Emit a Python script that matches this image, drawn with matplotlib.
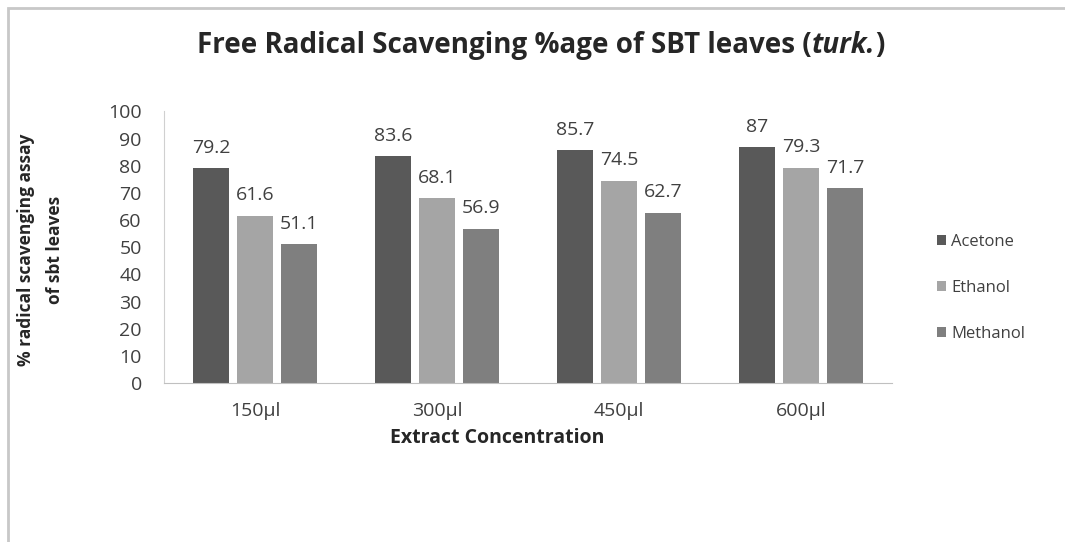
import matplotlib
matplotlib.use("Agg")
import matplotlib.pyplot as plt
import numpy as np
from matplotlib.patches import Rectangle

categories = ["150µl", "300µl", "450µl", "600µl"]
series_names = ["Acetone", "Ethanol", "Methanol"]
acetone = [79.2, 83.6, 85.7, 87]
ethanol = [61.6, 68.1, 74.5, 79.3]
methanol = [51.1, 56.9, 62.7, 71.7]
y_ticks = [0, 10, 20, 30, 40, 50, 60, 70, 80, 90, 100]

colors = ["#595959", "#a5a5a5", "#7f7f7f"]
FONT = "Open Sans"
plt.rcParams["font.family"] = [FONT, "DejaVu Sans"]

W, H = 1065, 542
fig = plt.figure(figsize=(W / 100, H / 100), dpi=100)
fig.patch.set_facecolor("white")

# outer frame (left and top edges visible)
fig.patches.append(Rectangle((8 / W, -0.05), 1.2, 1 - 8 / H + 0.05,
                             transform=fig.transFigure, fill=False,
                             edgecolor="#c8c8c8", linewidth=2.0))

ax = fig.add_axes([0.154, 0.2934, 0.6836, 0.5009])
x = np.arange(len(categories))
width = 0.198
step = 0.242
values = [acetone, ethanol, methanol]
for i, (name, vals, c) in enumerate(zip(series_names, values, colors)):
    pos = x + (i - 1) * step
    bars = ax.bar(pos, vals, width, color=c, label=name)
    for b, v in zip(bars, vals):
        ax.annotate(f"{v:g}", (b.get_x() + b.get_width() / 2, v),
                    xytext=(0, 11), textcoords="offset points",
                    ha="center", va="baseline", fontsize=14, color="#404040")

ax.set_xlim(-0.5, len(categories) - 0.5)
ax.set_ylim(0, 100)
ax.set_yticks(y_ticks)
ax.set_xticks(x)
ax.set_xticklabels(categories)
ax.tick_params(axis="both", length=0, labelsize=14, labelcolor="#404040")
ax.tick_params(axis="y", pad=16)
ax.tick_params(axis="x", pad=14)
for s in ["top", "right"]:
    ax.spines[s].set_visible(False)
ax.spines["left"].set_color("#d0d0d0")
ax.spines["bottom"].set_color("#c0c0c0")

fig.text(497 / W, 1 - 443 / H, "Extract Concentration", fontsize=14,
         fontweight="bold", color="#262626", ha="center", va="baseline")
fig.text(26 / W, 1 - 250 / H, "% radical scavenging assay", rotation=90,
         ha="center", va="center", fontsize=12.5, fontweight="bold",
         color="#262626")
fig.text(55 / W, 1 - 250 / H, "of sbt leaves", rotation=90,
         ha="center", va="center", fontsize=12.5, fontweight="bold",
         color="#262626")

leg = fig.legend(loc="center left", bbox_to_anchor=(922 / W, 1 - 287.5 / H),
                 frameon=False, fontsize=12, handlelength=0.55,
                 handleheight=0.55, handletextpad=0.3, labelspacing=1.8)
for t in leg.get_texts():
    t.set_color("#404040")

# title with italic part
fig.canvas.draw()
renderer = fig.canvas.get_renderer()
ty = 1 - 53 / H
parts = [("Free Radical Scavenging %age of SBT leaves (", "normal"),
         ("turk.", "italic"), (")", "normal")]
texts = []
widths = []
for s, style in parts:
    t = fig.text(0, ty, s, fontsize=20, fontweight="bold", style=style,
                 color="#262626", va="baseline", ha="left")
    bb = t.get_window_extent(renderer)
    texts.append(t)
    widths.append(bb.width)
total = sum(widths)
x0 = 541 - total / 2
for t, w in zip(texts, widths):
    t.set_x(x0 / W)
    x0 += w

fig.savefig("out.png", dpi=100, facecolor="white")
